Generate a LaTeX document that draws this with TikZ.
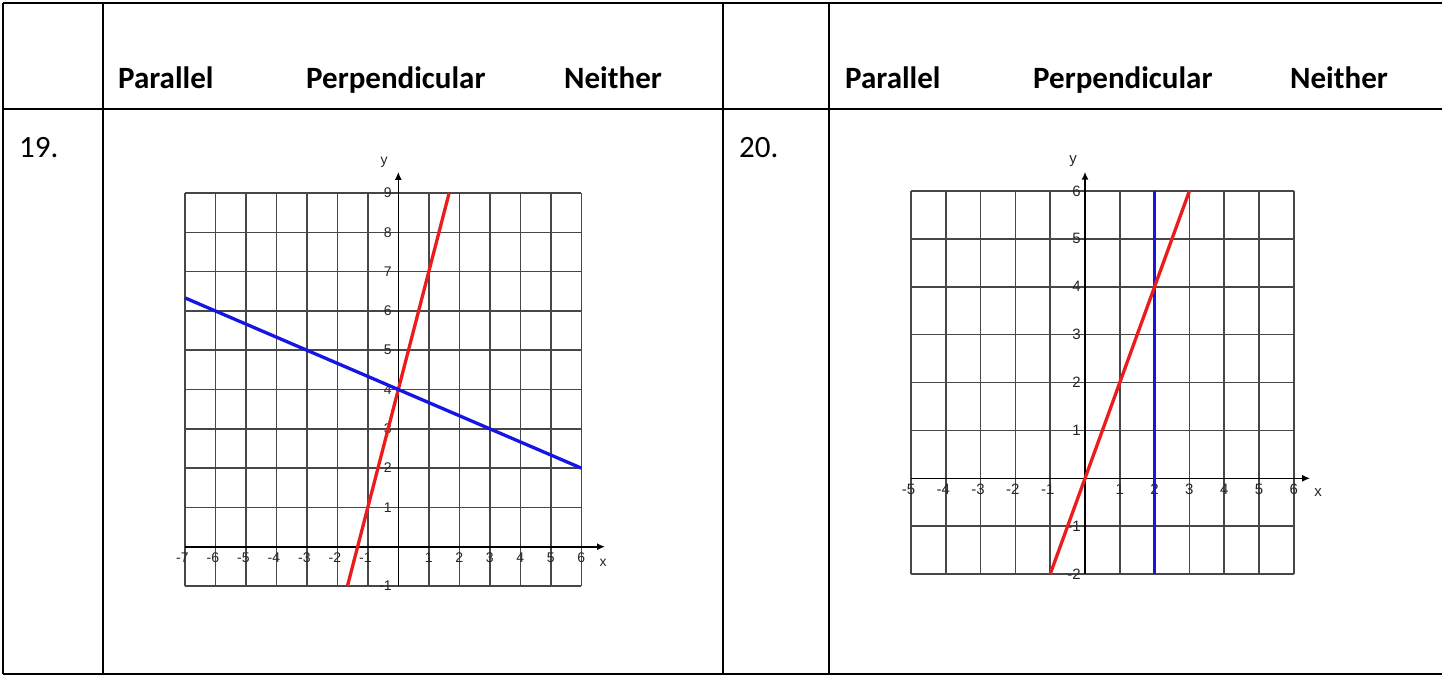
\documentclass[tikz,border=0pt]{standalone}
\usepackage{fontspec}
\setmainfont{Carlito}
\newfontfamily\tickfont{Liberation Sans}
\usetikzlibrary{arrows.meta}
\definecolor{lred}{RGB}{236,28,28}
\definecolor{lblue}{RGB}{22,22,228}
\begin{document}
\begin{tikzpicture}[x=1pt,y=-1pt,
  tbl/.style={line width=2.4pt,black},
  hdr/.style={anchor=base west,inner sep=0,font=\fontsize{31}{36}\selectfont\bfseries},
  num/.style={anchor=base west,inner sep=0,font=\fontsize{31}{36}\selectfont},
  gridln/.style={line width=1.6pt,black!72},
  axisln/.style={line width=1.6pt,black,-{Latex[length=8pt,width=7pt]}},
  tickA/.style={inner sep=0,font=\tickfont\fontsize{14}{14}\selectfont,text=black!85},
  tickB/.style={inner sep=0,font=\tickfont\fontsize{15}{15}\selectfont,text=black!85},
  redln/.style={line width=3.3pt,lred},
  blueln/.style={line width=3.3pt,lblue}
]
\useasboundingbox (0,0) rectangle (1442,675);
% table
\draw[tbl] (3,3) -- (1442,3);
\draw[tbl] (3,674) -- (1442,674);
\draw[tbl] (3,109) -- (1442,109);
\foreach \cx in {3,103,723,829} \draw[tbl] (\cx,3) -- (\cx,674);
% headers
\node[hdr] (pa1) at (118,88) {Parallel};
\node[hdr] (pe1) at (306,88) {Perpendicular};
\node[hdr] (ne1) at (564,88) {Neither};
\node[hdr] (pa2) at (845,88) {Parallel};
\node[hdr] (pe2) at (1033,88) {Perpendicular};
\node[hdr] (ne2) at (1290,88) {Neither};
\node[num] (n19) at (19,157) {19.};
\node[num] (n20) at (739,157) {20.};
% graph 19
\begin{scope}[shift={(398.3,546.7)},x=30.5pt,y=39.3pt]
  \foreach \gx in {-7,...,6} \draw[gridln] (\gx,-1) -- (\gx,9);
  \foreach \gy in {-1,...,9} \draw[gridln] (-7,\gy) -- (6,\gy);
  \coordinate (xa1) at (-7,0);
  \coordinate (xb1) at (6.78,0);
  \coordinate (ya1) at (0,-1);
  \coordinate (yb1) at (0,9.54);
  \draw[axisln] (xa1) -- (xb1);
  \draw[axisln] (ya1) -- (yb1);
  \foreach \t in {1,...,7} \node[tickA] (xn1m\t) at ([yshift=-10.7pt]-\t,0) {\llap{-}\t};
  \foreach \t in {1,...,6} \node[tickA] (xn1p\t) at ([yshift=-10.7pt]\t,0) {\t};
  \foreach \t in {1,...,9} \node[tickA] (yn1p\t) at ([xshift=-10.5pt]0,\t) {\t};
  \node[tickA] (yn1m1) at ([xshift=-10.5pt]0,-1) {\llap{-}1};
  \coordinate (r1a) at (-5/3,-1);
  \coordinate (r1b) at (5/3,9);
  \coordinate (b1a) at (-7,19/3);
  \coordinate (b1b) at (6,2);
  \draw[redln] (r1a) -- (r1b);
  \draw[blueln] (b1a) -- (b1b);
\end{scope}
\node[tickA] (ylab1) at (384,162) {y};
\node[tickA] (xlab1) at (603,563) {x};
% graph 20
\begin{scope}[shift={(1085,478.3)},x=34.8pt,y=47.9pt]
  \foreach \gx in {-5,...,6} \draw[gridln] (\gx,-2) -- (\gx,6);
  \foreach \gy in {-2,...,6} \draw[gridln] (-5,\gy) -- (6,\gy);
  \coordinate (xa2) at (-5,0);
  \coordinate (xb2) at (6.47,0);
  \coordinate (ya2) at (0,-2);
  \coordinate (yb2) at (0,6.4);
  \draw[axisln] (xa2) -- (xb2);
  \draw[axisln] (ya2) -- (yb2);
  \foreach \t in {1,...,5} \node[tickB] (xn2m\t) at ([yshift=-11pt]-\t,0) {\llap{-}\t};
  \foreach \t in {1,...,6} \node[tickB] (xn2p\t) at ([yshift=-11pt]\t,0) {\t};
  \foreach \t in {1,...,6} \node[tickB] (yn2p\t) at ([xshift=-8.5pt]0,\t) {\t};
  \foreach \t in {1,2} \node[tickB] (yn2m\t) at ([xshift=-8.5pt]0,-\t) {\llap{-}\t};
  \coordinate (r2a) at (-1,-2);
  \coordinate (r2b) at (3,6);
  \coordinate (b2a) at (2,-2);
  \coordinate (b2b) at (2,6);
  \draw[blueln] (b2a) -- (b2b);
  \draw[redln] (r2a) -- (r2b);
\end{scope}
\node[tickB] (ylab2) at (1073,161) {y};
\node[tickB] (xlab2) at (1318,493) {x};
\end{tikzpicture}
\end{document}
